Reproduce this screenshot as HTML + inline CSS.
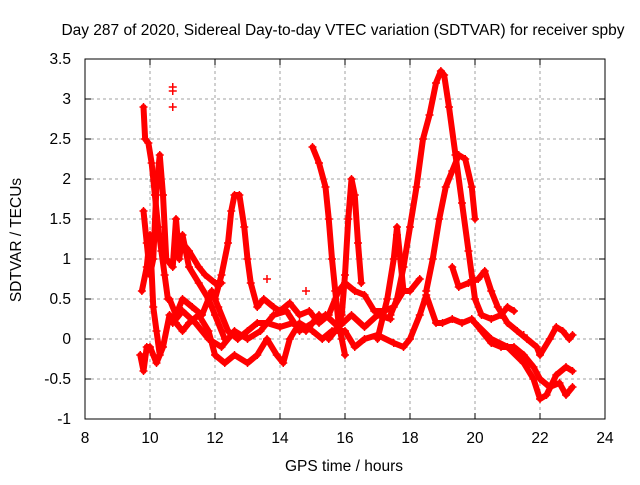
<!DOCTYPE html>
<html><head><meta charset="utf-8"><style>
body{margin:0;background:#fff;}
svg text{font-family:"Liberation Sans",sans-serif;font-size:15.5px;fill:#000;}
</style></head><body>
<svg id="c" width="640" height="480">
<text x="343" y="35" text-anchor="middle">Day 287 of 2020, Sidereal Day-to-day VTEC variation (SDTVAR) for receiver spby</text>
<text x="344" y="471" text-anchor="middle">GPS time / hours</text>
<text transform="translate(21,240) rotate(-90)" text-anchor="middle">SDTVAR / TECUs</text>
<g id="grid"></g><g id="marks"></g>
<rect x="85" y="59" width="520" height="360" fill="none" stroke="#000"/>
</svg>
<script>
const xTicks=[8,10,12,14,16,18,20,22,24];
const yTicks=[-1,-0.5,0,0.5,1,1.5,2,2.5,3,3.5];
const yLabels=["-1","-0.5","0","0.5","1","1.5","2","2.5","3","3.5"];
const track1=[[9.7,-0.2],[9.8,-0.4],[9.9,-0.1],[10,-0.1],[10.2,-0.3],[10.4,-0.1],[10.6,0.3],[10.8,0.2],[11,0.1],[11.2,0.2],[11.5,0.3],[11.8,0.1],[12,-0.2],[12.3,-0.3],[12.6,-0.2],[13,-0.3],[13.3,-0.2],[13.6,0],[13.9,-0.2],[14.1,-0.3],[14.3,0],[14.6,0.2],[15,0.1],[15.3,0],[15.6,0.1],[16,0.1],[16.3,-0.1],[16.6,0],[17,0.05],[17.5,-0.05],[17.8,-0.1],[18,0],[18.3,0.3],[18.5,0.55],[18.8,0.2],[19,0.2],[19.3,0.25],[19.6,0.2],[19.9,0.25],[20.2,0.1],[20.5,-0.05],[20.8,-0.1],[21.2,-0.1],[21.5,-0.2],[21.8,-0.35],[22,-0.5],[22.3,-0.6],[22.6,-0.55],[22.8,-0.7],[23,-0.6]];
const track2=[[17.4,0.3],[17.6,0.5],[17.8,0.9],[18,1.4],[18.2,1.9],[18.4,2.5],[18.6,2.8],[18.8,3.2],[18.95,3.35],[19.05,3.3],[19.2,2.9],[19.4,2.3],[19.6,1.7],[19.8,1.1],[20,0.5],[20.2,0.3],[20.5,0.25],[20.8,0.3],[21,0.4],[21.2,0.35]];
const track3=[[18.5,0.6],[18.7,1.0],[18.9,1.5],[19.1,1.9],[19.3,2.1],[19.5,2.3],[19.7,2.25],[19.9,1.9],[20,1.5]];
const track4=[[19.3,0.9],[19.5,0.65],[19.8,0.7],[20.1,0.75],[20.3,0.85],[20.5,0.6],[20.7,0.4],[21,0.2],[21.3,0.1],[21.6,0],[21.9,-0.1],[22,-0.2],[22.3,0],[22.5,0.15],[22.7,0.1],[22.9,0],[23,0.05]];
const track5=[[20,0.2],[20.5,0],[21,-0.1],[21.5,-0.3],[21.8,-0.5],[22,-0.75],[22.2,-0.7],[22.5,-0.45],[22.8,-0.35],[23,-0.4]];
const track6=[[12,0.5],[12.2,0.8],[12.4,1.2],[12.5,1.6],[12.6,1.8],[12.75,1.8],[12.9,1.4],[13,1.0],[13.1,0.7],[13.3,0.4],[13.5,0.5],[13.8,0.4],[14,0.35],[14.3,0.45],[14.6,0.3],[14.9,0.35],[15.2,0.2],[15.5,0.3],[15.8,0.6],[16,0.7],[16.3,0.6],[16.6,0.55],[16.9,0.35],[17.2,0.35],[17.5,0.4],[17.8,0.6],[18,0.6],[18.3,0.75]];
const track7=[[15,2.4],[15.2,2.2],[15.4,1.9],[15.5,1.5],[15.6,1.0],[15.7,0.6],[15.8,0.2],[15.9,0],[16,-0.2]];
const track8=[[15.5,0],[15.7,0.1],[15.9,0.3],[16,0.8],[16.1,1.5],[16.2,2.0],[16.3,1.8],[16.4,1.2],[16.5,0.7]];
const track9=[[17,0],[17.3,0.5],[17.5,1.0],[17.6,1.4],[17.7,1.0],[17.8,0.6]];
const track10=[[9.8,2.9],[9.85,2.5],[9.95,2.45],[10.05,2.2],[10.15,1.8],[10.25,1.4],[10.35,1.1],[10.45,0.8],[10.55,0.5]];
const track11=[[9.8,1.6],[9.9,1.2],[10,0.8],[10.1,1.0],[10.2,1.9],[10.3,2.3],[10.4,1.8],[10.5,1.0],[10.7,0.9],[10.8,1.5],[10.9,1.0],[11,1.3],[11.2,0.9],[11.5,0.7],[11.8,0.5],[12,0.3],[12.3,0]];
const track12=[[10.6,0.5],[10.8,0.3],[11,0.5],[11.3,0.4],[11.6,0.3],[11.9,0.6],[12.1,0.4],[12.4,0.1],[12.7,0],[13,0.1],[13.3,0.2],[13.6,0.2],[14,0.15],[14.4,0.2],[14.8,0.1],[15.2,0.3]];
const track13=[[11,1.2],[11.2,1.1],[11.5,0.9],[11.7,0.8],[12,0.7],[12.2,0.7]];
const track14=[[10.7,0.2],[11,0.35],[11.4,0.2],[11.8,0.0],[12.2,-0.1],[12.6,0.1],[13,0.0],[13.4,0.1],[13.8,0.3],[14.2,0.35],[14.6,0.1],[15,0.2],[15.4,0.3],[15.8,0.15],[16.2,0.3],[16.6,0.15],[17,0.3],[17.4,0.25]];
const track15=[[9.75,0.6],[9.9,0.9],[10.0,1.3],[10.1,0.4],[10.2,0.1],[10.3,-0.2]];
const isolated=[[10.7,3.1],[10.7,2.9],[10.7,3.15],[13.6,0.75],[14.8,0.6],[21.5,0.05],[17.6,1.3]];
const tracks=[track1,track2,track3,track4,track5,track6,track7,track8,track9,track10,track11,track12,track13,track14,track15];
const X=t=>85+(t-8)*520/16, Y=v=>339-v*80;
const NS="http://www.w3.org/2000/svg";
const grid=document.getElementById('grid'), marks=document.getElementById('marks'), svg=document.getElementById('c');
function mk(tag,at,par){const e=document.createElementNS(NS,tag);for(const k in at)e.setAttribute(k,at[k]);par.appendChild(e);return e;}
xTicks.forEach(t=>{const x=X(t);
 if(t>8&&t<24){const g=mk('line',{x1:x,x2:x,y1:59,y2:419,stroke:'#a0a0a0','stroke-dasharray':'3,3'},grid);
 
 }
 mk('line',{x1:x,x2:x,y1:419,y2:413,stroke:'#000'},grid);mk('line',{x1:x,x2:x,y1:59,y2:65,stroke:'#000'},grid);
 const l=mk('text',{x:x,y:443,'text-anchor':'middle'},svg);l.textContent=t;
 
 });
yTicks.forEach((v,i)=>{const y=Y(v);
 if(v>-1&&v<3.5){const g=mk('line',{x1:85,x2:605,y1:y,y2:y,stroke:'#a0a0a0','stroke-dasharray':'3,3'},grid);
 
 }
 mk('line',{x1:85,x2:91,y1:y,y2:y,stroke:'#000'},grid);mk('line',{x1:605,x2:599,y1:y,y2:y,stroke:'#000'},grid);
 const l=mk('text',{x:71,y:y+5,'text-anchor':'end'},svg);l.textContent=yLabels[i];
 
 });
function plus(t,v){const x=X(t),y=Y(v);
 const p=mk('path',{d:`M${x-4},${y}h8M${x},${y-4}v8`,stroke:'#f00','stroke-width':1.5},marks);
 
 }
tracks.forEach(tr=>{
 const pl=mk('polyline',{points:tr.map(p=>X(p[0])+','+Y(p[1])).join(' '),fill:'none',stroke:'#f00','stroke-width':6,'stroke-linejoin':'round','stroke-linecap':'round'},marks);
 
 
 tr.forEach(p=>plus(p[0],p[1]));});
isolated.forEach(p=>plus(p[0],p[1]));
</script>
</body></html>
